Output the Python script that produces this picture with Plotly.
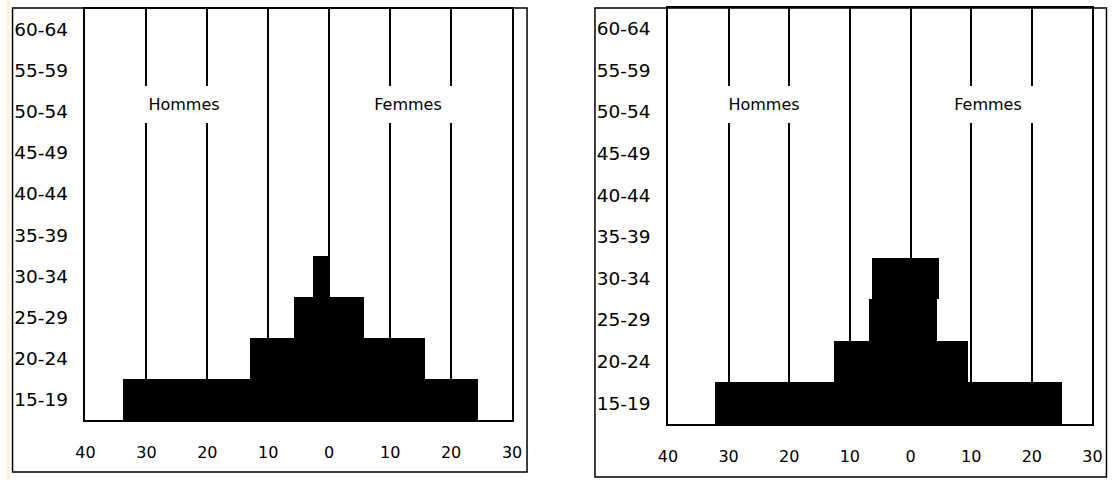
import plotly.graph_objects as go

W, H = 1114, 480

age_groups = ["15-19", "20-24", "25-29", "30-34", "35-39",
              "40-44", "45-49", "50-54", "55-59", "60-64"]

# Panel 1 (left)
men_1 = [33.7, 12.9, 5.7, 2.6, 0, 0, 0, 0, 0, 0]
women_1 = [24.5, 15.8, 5.7, 0, 0, 0, 0, 0, 0, 0]
# Panel 2 (right)
men_2 = [32.2, 12.7, 6.8, 6.4, 0, 0, 0, 0, 0, 0]
women_2 = [24.9, 9.5, 4.3, 4.6, 0, 0, 0, 0, 0, 0]

x_tickvals = [-40, -30, -20, -10, 0, 10, 20, 30]
x_ticktext = ["40", "30", "20", "10", "0", "10", "20", "30"]
label_men = "Hommes"
label_women = "Femmes"

FONT = "DejaVu Sans"
K = 0.983  # horizontal compensation for the photographed page


def comp(p):
    return 557 + (p - 557) / K


def px_x(p):
    return comp(p) / W


def px_y(p):
    return (H - p) / H


fig = go.Figure()

panels = [
    (men_1, women_1, "x", "y", (85, 512, 9, 420), (12, 527, 8, 472), (-23.8, 12.9)),
    (men_2, women_2, "x2", "y2", (668, 1093, 8, 424), (595, 1107, 8, 477), (-24.1, 12.7)),
]

for i, (men, women, xa, ya, inner, outer, lab_x) in enumerate(panels):
    fig.add_trace(go.Bar(
        y=age_groups, x=[-v for v in men], orientation="h",
        marker=dict(color="black", line=dict(width=0)),
        xaxis=xa, yaxis=ya, showlegend=False, name=label_men,
    ))
    fig.add_trace(go.Bar(
        y=age_groups, x=women, orientation="h",
        marker=dict(color="black", line=dict(width=0)),
        xaxis=xa, yaxis=ya, showlegend=False, name=label_women,
    ))

    x0, x1, y0, y1 = inner
    suffix = "" if i == 0 else "2"
    fig.layout["xaxis" + suffix] = dict(
        domain=[px_x(x0), px_x(x1)],
        anchor=ya, range=[-40, 30],
        tickvals=x_tickvals, ticktext=x_ticktext,
        ticks="outside", ticklen=17, tickcolor="rgba(0,0,0,0)",
        tickfont=dict(family=FONT, size=16, color="black"),
        showgrid=True, gridcolor="black", gridwidth=1.5,
        zeroline=False,
        showline=True, linecolor="black", linewidth=1.5, mirror=True,
        fixedrange=True,
    )
    fig.layout["yaxis" + suffix] = dict(
        domain=[px_y(y1), px_y(y0)],
        anchor=xa, type="category",
        categoryorder="array", categoryarray=age_groups,
        range=[-0.5, 9.5],
        ticks="outside", ticklen=12, tickcolor="rgba(0,0,0,0)",
        tickfont=dict(family=FONT, size=18.5, color="black"),
        showgrid=False, zeroline=False,
        showline=True, linecolor="black", linewidth=1.5, mirror=True,
        fixedrange=True,
    )

    ox0, ox1, oy0, oy1 = outer
    fig.add_shape(type="rect", xref="paper", yref="paper",
                  x0=px_x(ox0), x1=px_x(ox1), y0=px_y(oy1), y1=px_y(oy0),
                  line=dict(color="black", width=1.5), fillcolor="rgba(0,0,0,0)")

    for lx, txt in zip(lab_x, [label_men, label_women]):
        fig.add_annotation(
            x=lx, y=7.17, xref=xa, yref=ya, text=txt, showarrow=False,
            font=dict(family=FONT, size=16, color="black"),
            bgcolor="white", width=92, height=37, borderpad=0, borderwidth=0,
            align="center", valign="middle",
        )

# cream strip on the far left edge
fig.add_shape(type="rect", xref="paper", yref="paper",
              x0=0, x1=px_x(6), y0=0, y1=1,
              line=dict(width=0), fillcolor="#fdf3dc", layer="below")

fig.update_layout(
    width=W, height=H,
    margin=dict(l=0, r=0, t=0, b=0),
    paper_bgcolor="white", plot_bgcolor="white",
    barmode="relative", bargap=0,
    showlegend=False,
)

fig.write_html(
    "out.html",
    config={"displayModeBar": False},
    post_script="document.body.style.margin='0';document.body.style.overflow='hidden';",
)
